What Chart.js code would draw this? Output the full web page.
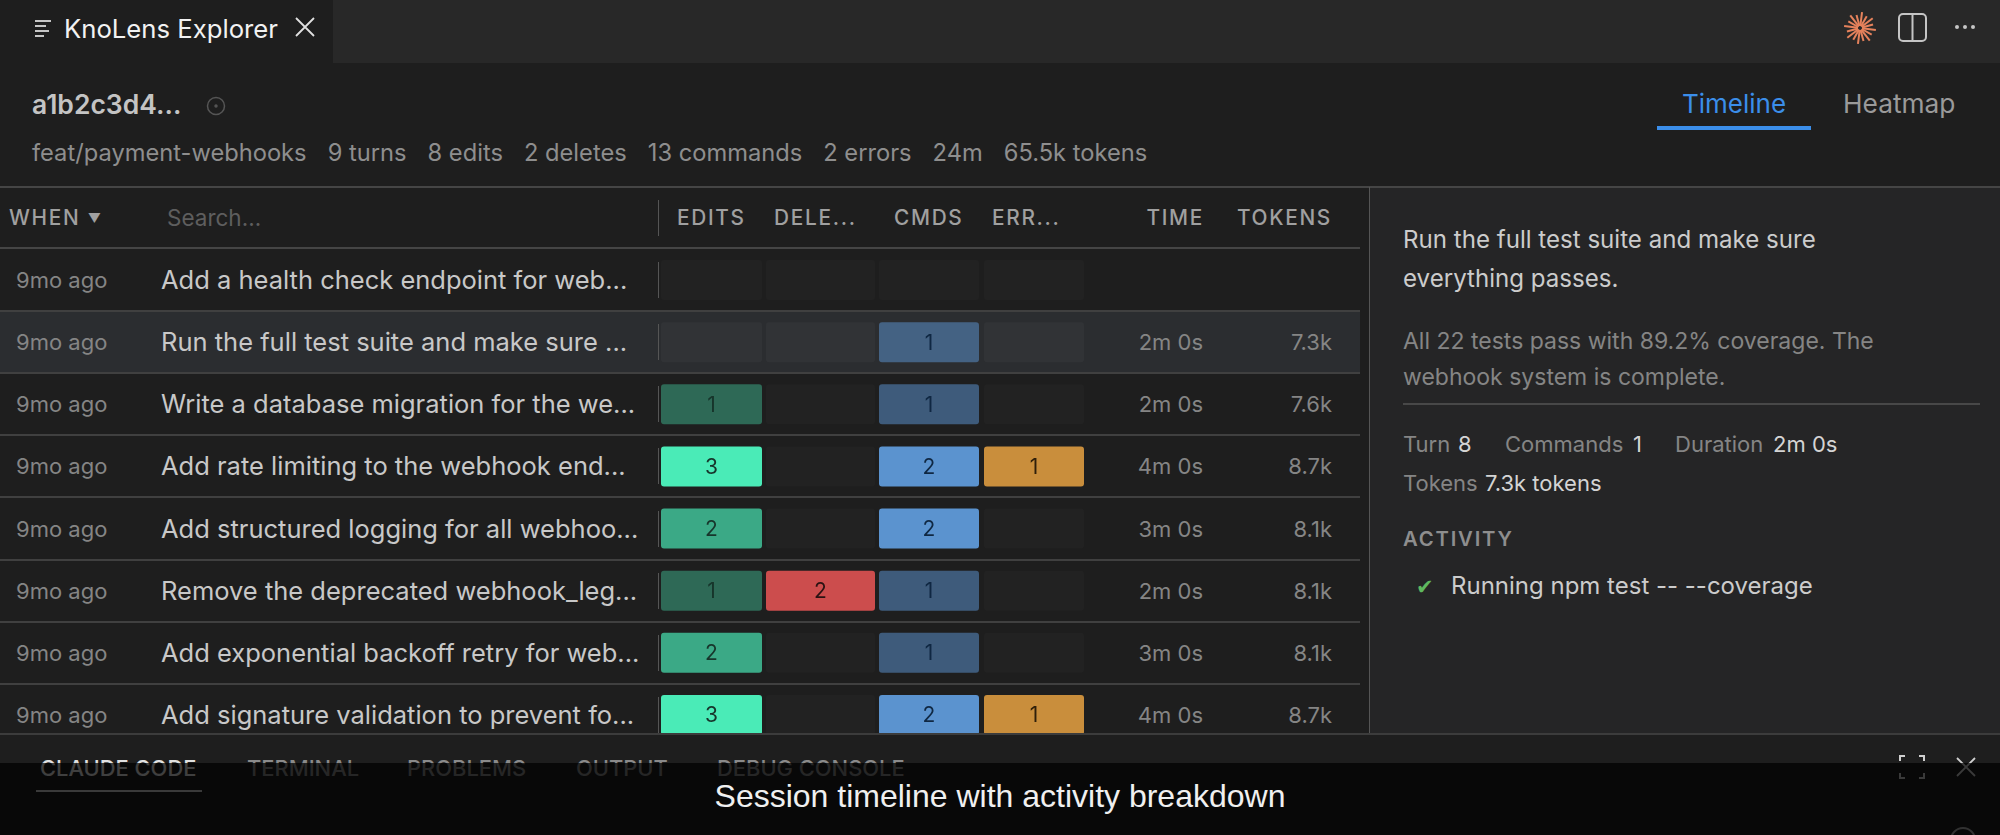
<!DOCTYPE html>
<html>
<head>
<meta charset="utf-8">
<title>KnoLens Explorer</title>
<script src="https://cdn.jsdelivr.net/npm/chart.js@4/dist/chart.umd.min.js"></script>
<style>
html, body { margin: 0; padding: 0; background: #1e1e1e; }
#page { position: relative; width: 2000px; height: 835px; overflow: hidden; background: #1e1e1e; font-family: Inter, "Noto Sans", sans-serif; color: #ccc; }
.abs { position: absolute; white-space: nowrap; line-height: 1; }
.line { position: absolute; background: #454545; }
canvas { position: absolute; top: 0; left: 0; }
.col { position: absolute; top: 249px; height: 484px; overflow: hidden; }
#tabbar { position: absolute; left: 0; top: 0; width: 2000px; height: 63px; background: #282828; }
#tab { position: absolute; left: 0; top: 0; width: 333px; height: 63px; background: #1e1e1e; }
#side { position: absolute; left: 1370px; top: 187px; width: 630px; height: 546px; background: #252526; }
#hover { position: absolute; left: 0; top: 311px; width: 1360px; height: 62px; background: #2b2d30; }
#overlay { position: absolute; left: 0; top: 763px; width: 2000px; height: 72px; background: rgba(0,0,0,0.72); z-index: 5; }
#caption { position: absolute; left: 0; top: 762px; width: 2000px; height: 70px; text-align: center; font: 32px/68px "Liberation Sans", sans-serif; color: #f0f0f0; z-index: 6; }
#panel { position: absolute; left: 0; top: 733px; width: 2000px; height: 102px; background: #1e1e1e; border-top: 2px solid #3c3c3c; box-sizing: border-box; z-index: 4; }
.hdr { font-size: 20.8px; font-weight: 500; letter-spacing: 1.7px; color: #a0a0a0; }
.ptab { font-size: 21.9px; font-weight: 500; z-index: 4; color: #8a8a8a; top: 758px; }
</style>
</head>
<body>
<div id="page">
	<div id="tabbar"></div>
	<div id="tab"></div>
	<svg class="abs" style="left:34px;top:19px" width="20" height="20" viewBox="0 0 20 20" stroke="#c5c5c5" stroke-width="2" fill="none"><path d="M1 2h16M1 7h11M1 12h14M1 17h9"/></svg>
	<div class="abs" style="left:64px;top:16px;font-size:25.7px;color:#f2f2f2">KnoLens Explorer</div>
	<svg class="abs" style="left:295px;top:17px" width="20" height="20" viewBox="0 0 20 20" stroke="#e0e0e0" stroke-width="1.8" fill="none"><path d="M1 1l18 18M19 1L1 19"/></svg>
	<svg class="abs" style="left:1843px;top:11px" width="34" height="34" viewBox="-17 -17 34 34" stroke="#e5825c" stroke-width="2" id="burst"></svg>
	<svg class="abs" style="left:1898px;top:13px" width="29" height="29" viewBox="0 0 29 29" stroke="#c5c5c5" stroke-width="2" fill="none"><rect x="1" y="1" width="27" height="27" rx="4"/><path d="M14.5 1v27"/></svg>
	<svg class="abs" style="left:1954px;top:24px" width="22" height="6" viewBox="0 0 22 6" fill="#c5c5c5"><circle cx="3" cy="3" r="2"/><circle cx="11" cy="3" r="2"/><circle cx="19" cy="3" r="2"/></svg>

	<div class="abs" style="left:32px;top:91px;font-size:26.5px;font-weight:600;color:#c4c4c4">a1b2c3d4...</div>
	<svg class="abs" style="left:206px;top:96px" width="20" height="20" viewBox="0 0 20 20" stroke="#555" stroke-width="1.5" fill="none"><circle cx="10" cy="10" r="8.5"/><circle cx="10" cy="10" r="1" fill="#555"/></svg>
	<div class="abs" id="meta" style="left:32px;top:141px;font-size:23.7px;color:#8e8e8e"></div>
	<div class="abs" style="left:1682px;top:91px;font-size:26px;color:#3b8eea">Timeline</div>
	<div class="line" style="left:1657px;top:126px;width:154px;height:4px;background:#3b8eea"></div>
	<div class="abs" style="left:1843px;top:91px;font-size:26.3px;color:#9a9a9a">Heatmap</div>

	<div id="side"></div>
	<div class="line" style="left:0;top:186px;width:2000px;height:2px"></div>
	<div class="line" style="left:0;top:247px;width:1360px;height:2px"></div>
	<div class="line" style="left:1369px;top:187px;width:1px;height:546px;background:#555"></div>
	<div class="line" style="left:658px;top:200px;width:1px;height:36px;background:#555"></div>

	<div class="abs hdr" style="left:9px;top:208px">WHEN <span style="font-size:13px;vertical-align:2px">▼</span></div>
	<div class="abs" style="left:167px;top:207px;font-size:22.5px;color:#5e5e5e">Search...</div>
	<div class="abs hdr" style="left:677px;top:208px">EDITS</div>
	<div class="abs hdr" style="left:774px;top:208px">DELE...</div>
	<div class="abs hdr" style="left:894px;top:208px">CMDS</div>
	<div class="abs hdr" style="left:992px;top:208px">ERR...</div>
	<div class="abs hdr" style="right:796px;top:208px">TIME</div>
	<div class="abs hdr" style="right:668px;top:208px">TOKENS</div>

	<div id="hover"></div>
	<div id="rows"></div>
	<div class="col" style="left:661px;width:101px"><canvas id="editsChart" width="101" height="497"></canvas></div>
	<div class="col" style="left:766px;width:109px"><canvas id="deletesChart" width="109" height="497"></canvas></div>
	<div class="col" style="left:879px;width:100px"><canvas id="cmdsChart" width="100" height="497"></canvas></div>
	<div class="col" style="left:984px;width:100px"><canvas id="errorsChart" width="100" height="497"></canvas></div>

	<div class="abs" style="left:1403px;top:220px;font-size:24.1px;line-height:39px;color:#cccccc;white-space:normal;width:500px">Run the full test suite and make sure everything passes.</div>
	<div class="abs" style="left:1403px;top:323px;font-size:23px;line-height:36px;color:#858585;white-space:normal;width:560px">All 22 tests pass with 89.2% coverage. The webhook system is complete.</div>
	<div class="line" style="left:1403px;top:403px;width:577px;height:2px;background:#484848"></div>
	<div class="abs stat" style="left:1403px;top:433px;font-size:22px;color:#858585">Turn</div>
	<div class="abs" style="left:1458px;top:433px;font-size:22px;color:#d4d4d4">8</div>
	<div class="abs" style="left:1505px;top:433px;font-size:22px;color:#858585">Commands</div>
	<div class="abs" style="left:1633px;top:433px;font-size:22px;color:#d4d4d4">1</div>
	<div class="abs" style="left:1675px;top:433px;font-size:22px;color:#858585">Duration</div>
	<div class="abs" style="left:1773px;top:433px;font-size:22px;color:#d4d4d4">2m 0s</div>
	<div class="abs" style="left:1403px;top:472px;font-size:22px;color:#858585">Tokens</div>
	<div class="abs" style="left:1485px;top:472px;font-size:22px;color:#d4d4d4">7.3k tokens</div>
	<div class="abs" style="left:1403px;top:529px;font-size:20.3px;font-weight:600;letter-spacing:1.8px;color:#8e8e8e">ACTIVITY</div>
	<div class="abs" style="left:1416px;top:577px;font-size:21px;color:#5fb85f;font-family:'DejaVu Sans'">✔</div>
	<div class="abs" style="left:1451px;top:574px;font-size:24px;color:#cccccc">Running npm test -- --coverage</div>

	<div id="panel"></div>
	<div class="abs ptab" style="left:40px;color:#e0e0e0">CLAUDE CODE</div>
	<div class="abs ptab" style="left:247px">TERMINAL</div>
	<div class="abs ptab" style="left:407px">PROBLEMS</div>
	<div class="abs ptab" style="left:576px">OUTPUT</div>
	<div class="abs ptab" style="left:717px">DEBUG CONSOLE</div>
	<div class="line" style="left:36px;top:790px;width:166px;height:2px;background:#cfcfcf;z-index:4"></div>
	<svg class="abs" style="left:1899px;top:755px;z-index:4" width="26" height="24" viewBox="0 0 26 24" stroke="#d0d0d0" stroke-width="2" fill="none"><path d="M1 6V1h5M20 1h5v5M25 18v5h-5M6 23H1v-5"/></svg>
	<svg class="abs" style="left:1956px;top:757px;z-index:4" width="20" height="20" viewBox="0 0 20 20" stroke="#d0d0d0" stroke-width="1.8" fill="none"><path d="M1 1l18 18M19 1L1 19"/></svg>
	<svg class="abs" style="left:1949px;top:826px;z-index:4" width="28" height="9" viewBox="0 0 28 9" stroke="#b0b0b0" stroke-width="2" fill="none"><circle cx="14" cy="14" r="12"/></svg>
	<div id="overlay"></div>
	<div id="caption">Session timeline with activity breakdown</div>
</div>
<script>
const sessionStats = ["feat/payment-webhooks", "9 turns", "8 edits", "2 deletes", "13 commands", "2 errors", "24m", "65.5k tokens"]
const whenLabels = ["9mo ago", "9mo ago", "9mo ago", "9mo ago", "9mo ago", "9mo ago", "9mo ago", "9mo ago"]
const prompts = [
	"Add a health check endpoint for web...",
	"Run the full test suite and make sure ...",
	"Write a database migration for the we...",
	"Add rate limiting to the webhook end...",
	"Add structured logging for all webhoo...",
	"Remove the deprecated webhook_leg...",
	"Add exponential backoff retry for web...",
	"Add signature validation to prevent fo..."
]
const edits = [0, 0, 1, 3, 2, 1, 2, 3]
const deletes = [0, 0, 0, 0, 0, 2, 0, 0]
const cmds = [0, 1, 1, 2, 2, 1, 1, 2]
const errors = [0, 0, 0, 1, 0, 0, 0, 1]
const times = ["", "2m 0s", "2m 0s", "4m 0s", "3m 0s", "2m 0s", "3m 0s", "4m 0s"]
const tokens = ["", "7.3k", "7.6k", "8.7k", "8.1k", "8.1k", "8.1k", "8.7k"]

const rowHeight = 62.14
const hoverRow = 1

document.getElementById("meta").innerHTML = sessionStats
	.map(s => `<span style="margin-right:21px">${s}</span>`).join("")

const rows_box = document.getElementById("rows")
prompts.forEach((prompt, i) => {
	const y = 280 + i * rowHeight
	rows_box.insertAdjacentHTML("beforeend", `
		<div class="abs" style="left:16px;top:${y - 11}px;font-size:22px;color:#858585">${whenLabels[i]}</div>
		<div class="abs" style="left:161px;top:${y - 13}px;font-size:25.5px;color:#c8c8c8">${prompt}</div>
		<div class="abs" style="right:797px;top:${y - 11}px;font-size:22px;color:#858585">${times[i]}</div>
		<div class="abs" style="right:668px;top:${y - 11}px;font-size:22px;color:#858585">${tokens[i]}</div>
		<div class="line" style="left:658px;top:${y - 18}px;width:1px;height:36px;background:#555"></div>
		${i < 7 ? `<div class="line" style="left:0;top:${y + 30}px;width:1360px;height:2px;background:#404040"></div>` : ""}
	`)
})

// sunburst in the tab bar
let burst = ""
for (let a = 0; a < 16; a++) {
	const r = a * Math.PI / 8 + 0.13
	const len = a % 2 ? 13.5 : 16
	burst += `<line x1="${2 * Math.cos(r)}" y1="${2 * Math.sin(r)}" x2="${len * Math.cos(r)}" y2="${len * Math.sin(r)}"/>`
}
document.getElementById("burst").innerHTML = burst

const cellLabels = {
	id: "cellLabels",
	afterDatasetsDraw(chart, args, opts) {
		const ctx = chart.ctx
		ctx.save()
		ctx.font = "21px Inter"
		ctx.textAlign = "center"
		ctx.textBaseline = "middle"
		chart.getDatasetMeta(0).data.forEach((bar, i) => {
			if (!opts.values[i]) return
			ctx.fillStyle = opts.textColor
			ctx.fillText(opts.values[i], (bar.base + bar.x) / 2, bar.y + 1)
		})
		ctx.restore()
	}
}

function createColumnChart(place, values, rgb, textColor) {
	const max = Math.max(...values)
	new Chart(place.getContext("2d"), {
		type: "bar",
		data: {
			labels: prompts,
			datasets: [{
				data: values.map(() => 1),
				backgroundColor: values.map((v, i) => v
					? `rgba(${rgb},${0.05 + 0.95 * v / max})`
					: `rgba(255,255,255,${i == hoverRow ? 0.03 : 0.02})`),
				borderRadius: 3,
				borderSkipped: false,
				categoryPercentage: 1,
				barPercentage: 0.644,
			}],
		},
		options: {
			indexAxis: "y",
			responsive: false,
			animation: false,
			layout: { padding: 0 },
			plugins: {
				legend: { display: false },
				tooltip: { enabled: false },
				cellLabels: { values: values, textColor: textColor },
			},
			scales: {
				x: { display: false, min: 0, max: 1 },
				y: { display: false },
			},
		},
		plugins: [cellLabels],
	})
}

createColumnChart(document.getElementById("editsChart"), edits, "74,235,183", "#17352b")
createColumnChart(document.getElementById("deletesChart"), deletes, "204,77,77", "#2a1212")
createColumnChart(document.getElementById("cmdsChart"), cmds, "91,147,207", "#0f2742")
createColumnChart(document.getElementById("errorsChart"), errors, "201,142,60", "#2e1f0a")
</script>
</body>
</html>
